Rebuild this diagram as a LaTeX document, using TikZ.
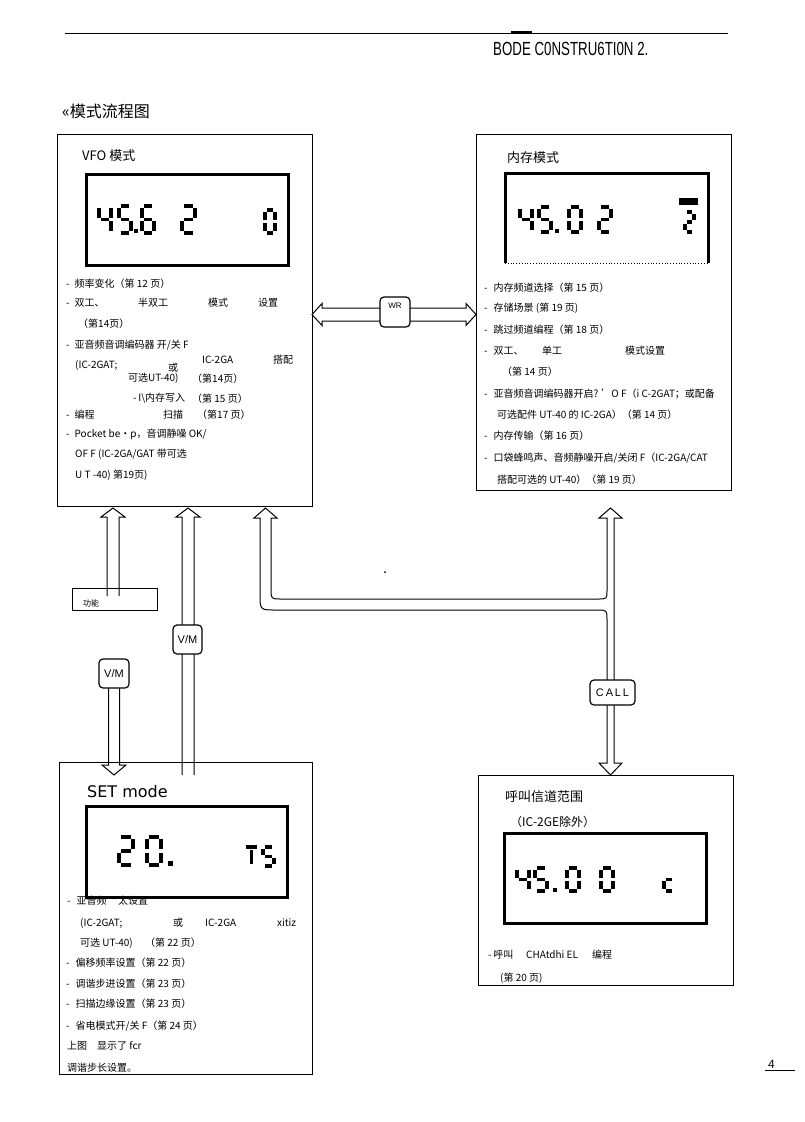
\documentclass[tikz,border=0pt]{standalone}
\usepackage{fontspec}
\usepackage{graphicx}
\setmainfont{Noto Sans CJK SC}
\newfontfamily\lat{Liberation Sans}
\newfontfamily\dvs{DejaVu Sans}
\tikzset{
 box/.style={draw, line width=0.8pt, inner sep=0, anchor=north west},
 lcd/.style={draw, line width=3pt, inner sep=0, anchor=north west},
 txt/.style={anchor=base west, inner sep=0, font=\fontsize{10}{12}\selectfont},
 seg/.style={line width=3.4pt},
 fat/.style={draw, line width=1pt, line join=miter},
 tag/.style={draw, line width=1.2pt, rounded corners=4pt, fill=white, inner sep=0, font=\lat\fontsize{11}{12}\selectfont},
}
\newcommand\TX[4]{\node[txt] (#1) at (#2,#3) {#4};}
\newcommand\sgA{\draw[seg] (\dG,0)--(\dW-\dG,0);}
\newcommand\sgB{\draw[seg] (\dW,\dG)--(\dW,\dH/2-\dG);}
\newcommand\sgC{\draw[seg] (\dW,\dH/2+\dG)--(\dW,\dH-\dG);}
\newcommand\sgD{\draw[seg] (\dG,\dH)--(\dW-\dG,\dH);}
\newcommand\sgE{\draw[seg] (0,\dH/2+\dG)--(0,\dH-\dG);}
\newcommand\sgF{\draw[seg] (0,\dG)--(0,\dH/2-\dG);}
\newcommand\sgG{\draw[seg] (\dG,\dH/2)--(\dW-\dG,\dH/2);}
\newcommand\sgV{\draw[seg] (\dW/2,\dG+1)--(\dW/2,\dH-\dG);}
\newcommand\sgH{\draw[seg] (-1,0)--(\dW+1,0);}
\newcommand\lcdd[5]{\begin{scope}[shift={(#1,#2)}]\def\dW{#3}\def\dH{#4}\def\dG{1.7}\foreach \s in {#5}{\csname sg\s\endcsname}\end{scope}}
\begin{document}
\begin{tikzpicture}[x=1pt,y=-1pt]
\useasboundingbox (0,0) rectangle (805,1122);
\fill[white] (0,0) rectangle (805,1122);

% header
\draw[line width=0.8pt] (65,33) -- (728,33);
\fill (511,30.5) rectangle (532,33);
\node[anchor=base west, inner sep=0] (hdr) at (493,55) {\lat\fontsize{19}{20}\selectfont\scalebox{0.7}[1]{BODE C0NSTRU6TI0N 2.}};
\node[anchor=base west, inner sep=0, font=\fontsize{16}{18}\selectfont] (ttl) at (62,117) {«模式流程图};

% boxes
\node[box, minimum width=255pt, minimum height=372pt] (vfo) at (57,134) {};
\node[box, minimum width=255pt, minimum height=356pt] (mem) at (476,134) {};
\node[box, minimum width=253pt, minimum height=312pt] (set) at (59,762) {};
\node[box, minimum width=255pt, minimum height=210pt] (call) at (478,775) {};

% LCDs
\node[lcd, minimum width=202pt, minimum height=91pt] (vlcd) at (85,173) {};
\draw[line width=3pt] (505,263) -- (505,173) -- (708,173) -- (708,263);
\draw[dotted, line width=0.8pt] (505,263) -- (708,263);
\node[lcd, minimum width=202pt, minimum height=90pt] (clcd) at (503,832) {};
\node[lcd, minimum width=201pt, minimum height=91pt] (slcd) at (85,805) {};

% VFO digits 45.62  0
\lcdd{99}{206}{12}{27}{F,G,B,C}
\lcdd{119}{206}{12}{27}{A,F,G,C,D}
\fill (134,229) rectangle (138,233);
\lcdd{142}{206}{12}{27}{A,F,G,E,C,D}
\lcdd{182}{206}{13}{27}{A,B,G,E,D}
\lcdd{265}{210}{10}{23}{A,B,C,D,E,F}

% memory digits 45.02  2
\lcdd{520}{207}{12}{25}{F,G,B,C}
\lcdd{539}{207}{12}{25}{A,F,G,C,D}
\fill (554.5,228.5) rectangle (558.5,232.5);
\lcdd{569}{207}{12}{25}{A,B,C,D,E,F}
\lcdd{599}{207}{12}{25}{A,B,G,E,D}
\lcdd{685}{212}{9}{20}{A,B,G,E,D}
\fill (679,198) rectangle (698,205);

% call digits 45.00  c
\lcdd{517}{868}{12}{23}{F,G,B,C}
\lcdd{535}{868}{12}{23}{A,F,G,C,D}
\fill (553,887.5) rectangle (557,891.5);
\lcdd{567}{868}{12}{23}{A,B,C,D,E,F}
\lcdd{601}{868}{12}{23}{A,B,C,D,E,F}
\lcdd{664}{868}{10}{23}{G,E,D}

% set digits 20.  TS
\lcdd{119}{837}{14}{28}{A,B,G,E,D}
\lcdd{147}{837}{14}{28}{A,B,C,D,E,F}
\fill (168,861) rectangle (172.5,865.5);
\lcdd{247}{847}{9}{19}{H,V}
\lcdd{263}{847}{11}{19}{A,F,G,C,D}

% titles
\node[anchor=base west, inner sep=0, font=\fontsize{13}{15}\selectfont] (vt) at (82,160) {VFO 模式};
\node[anchor=base west, inner sep=0, font=\fontsize{13}{15}\selectfont] (mt) at (507,162) {内存模式};
\node[anchor=base west, inner sep=0, font=\dvs\fontsize{16}{18}\selectfont] (st) at (87,797) {SET mode};
\node[anchor=base west, inner sep=0, font=\fontsize{13}{15}\selectfont] (ct) at (505,801) {呼叫信道范围};
\node[anchor=base west, inner sep=0, font=\fontsize{12}{14}\selectfont] (ct2) at (510,826) {（IC-2GE除外）};

% VFO text
\TX{v1}{66}{287}{-\hspace{5pt}频率变化（第 12 页）}
\TX{v2}{66}{306}{-\hspace{5pt}双工、}
\TX{v2b}{138}{306}{半双工}
\TX{v2c}{208}{306}{模式}
\TX{v2d}{258}{306}{设置}
\TX{v3}{78}{327}{（第14页）}
\TX{v4}{66}{348}{-\hspace{5pt}亚音频音调编码器 开/关 F}
\TX{v5a}{202}{363}{IC-2GA}
\TX{v5b}{273}{363}{搭配}
\TX{v6a}{75}{368}{(IC-2GAT;}
\TX{v6b}{168}{371}{或}
\TX{v7a}{128}{381}{可选UT-40)}
\TX{v7b}{192}{382}{（第14页）}
\TX{v8a}{133}{401}{-\,I\textbackslash 内存写入}
\TX{v8b}{192}{402}{（第 15 页）}
\TX{v9a}{66}{418}{-\hspace{5pt}编程}
\TX{v9b}{163}{418}{扫描}
\TX{v9c}{197}{418}{（第17 页）}
\TX{v10}{66}{437}{-\hspace{5pt}Pocket be•p，音调静噪 OK/}
\TX{v11}{75}{457}{OF F (IC-2GA/GAT 带可选}
\TX{v12}{75}{478}{U T -40) 第19页)}

% memory text
\TX{m1}{484}{291}{-\hspace{6pt}内存频道选择（第 15 页）}
\TX{m2}{484}{311}{-\hspace{6pt}存储场景 (第 19 页)}
\TX{m3}{484}{333}{-\hspace{6pt}跳过频道编程（第 18 页）}
\TX{m4a}{484}{354}{-\hspace{6pt}双工、}
\TX{m4b}{542}{354}{单工}
\TX{m4c}{625}{354}{模式设置}
\TX{m5}{502}{375}{（第 14 页）}
\TX{m6}{484}{397}{-\hspace{6pt}亚音频音调编码器开启? 'O F（i C-2GAT；或配备}
\TX{m7}{497}{418}{可选配件 UT-40 的 IC-2GA）（第 14 页）}
\TX{m8}{484}{439}{-\hspace{6pt}内存传输（第 16 页）}
\TX{m9}{484}{461}{-\hspace{6pt}口袋蜂鸣声、音频静噪开启/关闭 F（IC-2GA/CAT}
\TX{m10}{497}{483}{搭配可选的 UT-40）（第 19 页）}

% SET text
\TX{s1a}{67}{904}{-\hspace{6pt}亚音频}
\TX{s1b}{118}{904}{太设置}
\TX{s2a}{80}{926}{(IC-2GAT;}
\TX{s2b}{173}{926}{或}
\TX{s2c}{205}{926}{IC-2GA}
\TX{s2d}{277}{926}{xitiz}
\TX{s3a}{80}{946}{可选 UT-40)}
\TX{s3b}{145}{946}{（第 22 页）}
\TX{s4}{66}{966}{-\hspace{6pt}偏移频率设置（第 22 页）}
\TX{s5}{66}{987}{-\hspace{6pt}调谐步进设置（第 23 页）}
\TX{s6}{66}{1007}{-\hspace{6pt}扫描边缘设置（第 23 页）}
\TX{s7}{66}{1029}{-\hspace{6pt}省电模式开/关 F（第 24 页）}
\TX{s8a}{67}{1049}{上图}
\TX{s8b}{97}{1049}{显示了 fcr}
\TX{s9}{67}{1071}{调谐步长设置。}

% call text
\TX{c3a}{488}{958}{-\,呼叫}
\TX{c3b}{526}{958}{CHAtdhi EL}
\TX{c3c}{592}{958}{编程}
\TX{c4}{500}{981}{(第 20 页)}

% fat arrows
\draw[fat] (107,596) -- (107,517) -- (101,517) -- (113,508) -- (125,517) -- (119,517) -- (119,596);
\node[box, minimum width=85pt, minimum height=22pt] (func) at (72,588) {};
\node[anchor=base west, inner sep=0, font=\fontsize{8}{9}\selectfont] (funct) at (83,606) {功能};

\draw[fat] (182,775) -- (182,517) -- (176,517) -- (188,508) -- (200,517) -- (194,517) -- (194,775);
\draw[fat] (108.5,688) -- (108.5,765) -- (102,765) -- (114,775) -- (126,765) -- (119.5,765) -- (119.5,688);

\draw[fat] (260,518) -- (260,594) .. controls (260,610) .. (276,610) -- (597,610) .. controls (607,610) .. (607,620) -- (607,763) -- (599,763) -- (610.5,775) -- (622,763) -- (614,763) -- (614,518) -- (622,518) -- (610.5,508) -- (599,518) -- (607,518) -- (607,590) .. controls (607,599) .. (598,599) -- (281,599) .. controls (271,599) .. (271,589) -- (271,518) -- (277,518) -- (265.5,508) -- (254,518) -- cycle;

\draw[fat] (312,314.5) -- (322,303.5) -- (322,308) -- (466,308) -- (466,303.5) -- (476,314.5) -- (466,325.5) -- (466,321) -- (322,321) -- (322,325.5) -- cycle;

% tags
\node[tag, minimum width=30pt, minimum height=30pt] (wr) at (395,312) {};
\node[inner sep=0, font=\lat\fontsize{8}{9}\selectfont] (wrt) at (395,306) {WR};
\node[tag, minimum width=29pt, minimum height=29pt] (vm1) at (187.5,639.5) {V/M};
\node[tag, minimum width=30pt, minimum height=29pt] (vm2) at (114,673.5) {V/M};
\node[tag, minimum width=45pt, minimum height=25pt] (callt) at (612.5,692.5) {C\,A\,L\,L};

\fill (385,572) circle (1);

% page number
\node[anchor=base west, inner sep=0, font=\lat\fontsize{12}{13}\selectfont] (pg) at (768,1068) {4};
\draw[line width=0.8pt] (765,1070.5) -- (795,1070.5);
\end{tikzpicture}
\end{document}
